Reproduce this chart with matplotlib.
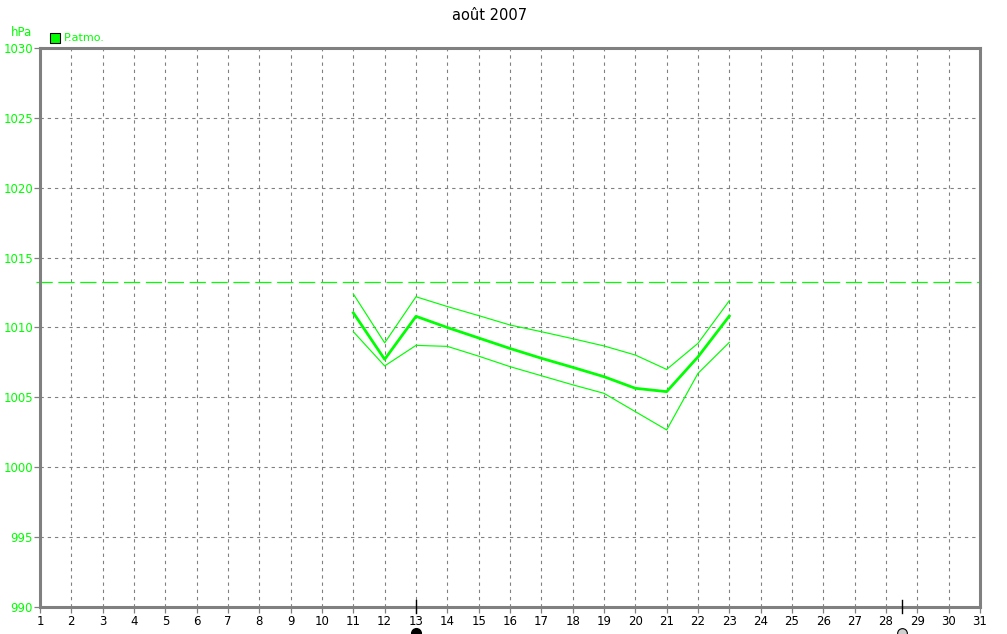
import matplotlib
matplotlib.use("Agg")
import matplotlib.pyplot as plt
import numpy as np

days = [11, 12, 13, 14, 15, 16, 17, 18, 19, 20, 21, 22, 23]
p_mean = [1011.05, 1007.72, 1010.8, 1010.0, 1009.25, 1008.5, 1007.8, 1007.15, 1006.48, 1005.65, 1005.41, 1007.9, 1010.82]
p_max = [1012.4, 1008.9, 1012.2, 1011.5, 1010.85, 1010.18, 1009.7, 1009.2, 1008.68, 1008.03, 1007.0, 1008.87, 1011.92]
p_min = [1009.7, 1007.25, 1008.72, 1008.65, 1007.95, 1007.2, 1006.55, 1005.9, 1005.29, 1003.98, 1002.67, 1006.72, 1008.94]
ref_pressure = 1013.25
x_ticks = list(range(1, 32))
y_ticks = [990, 995, 1000, 1005, 1010, 1015, 1020, 1025, 1030]
new_moon_day = 13
full_moon_day = 28.5
title = "août 2007"
legend_label = "P.atmo."
unit_label = "hPa"

GREEN = "#00ff00"
GRAY = "#808080"

W, H = 1007, 634
fig = plt.figure(figsize=(W / 100, H / 100), dpi=100)
left, right, top, bottom = 40, 980, 48, 607
ax = fig.add_axes([left / W, 1 - bottom / H, (right - left) / W, (bottom - top) / H])

ax.set_xlim(1, 31)
ax.set_ylim(990, 1030)

ax.plot(days, p_max, color=GREEN, lw=0.85, zorder=3)
ax.plot(days, p_min, color=GREEN, lw=0.85, zorder=3)
ax.plot(days, p_mean, color=GREEN, lw=2.0, zorder=4)
ax.plot([0.87, 31], [ref_pressure, ref_pressure], color=GREEN, lw=0.9,
        dashes=(13, 4.5), clip_on=False, zorder=2)

ax.set_xticks(x_ticks)
ax.set_yticks(y_ticks)
ax.grid(True, color=GRAY, ls=(0, (3, 3.5)), lw=0.8)
ax.tick_params(axis="both", length=4, width=0.9, color=GRAY, direction="out", pad=1)
ax.tick_params(axis="x", labelsize=8.5, labelcolor="black", pad=2)
ax.tick_params(axis="y", labelsize=8.5, labelcolor=GREEN, pad=1)
for s in ax.spines.values():
    s.set_color(GRAY)
    s.set_linewidth(2.2)

# moon markers
for d in (new_moon_day, full_moon_day):
    ax.plot([d, d], [989.55, 990.5], color="black", lw=1.0, clip_on=False, zorder=6)
ax.plot([new_moon_day], [988.12], marker="o", ms=7, mfc="black", mec="black",
        clip_on=False, zorder=6)
ax.plot([full_moon_day], [988.12], marker="o", ms=7, mfc="#d0d0d0", mec="black",
        mew=0.8, clip_on=False, zorder=6)

fig.text(490 / W, 1 - 15 / H, title, ha="center", va="center", fontsize=10.5)
fig.text(11 / W, 1 - 33 / H, unit_label, ha="left", va="center", fontsize=8.5, color=GREEN)
fig.patches.append(plt.Rectangle((50 / W, 1 - 43 / H), 10 / W, 10 / H, transform=fig.transFigure,
                                 facecolor=GREEN, edgecolor="black", lw=0.8))
fig.text(64 / W, 1 - 38 / H, legend_label, ha="left", va="center", fontsize=8, color=GREEN)

fig.savefig("out.png", dpi=100)
